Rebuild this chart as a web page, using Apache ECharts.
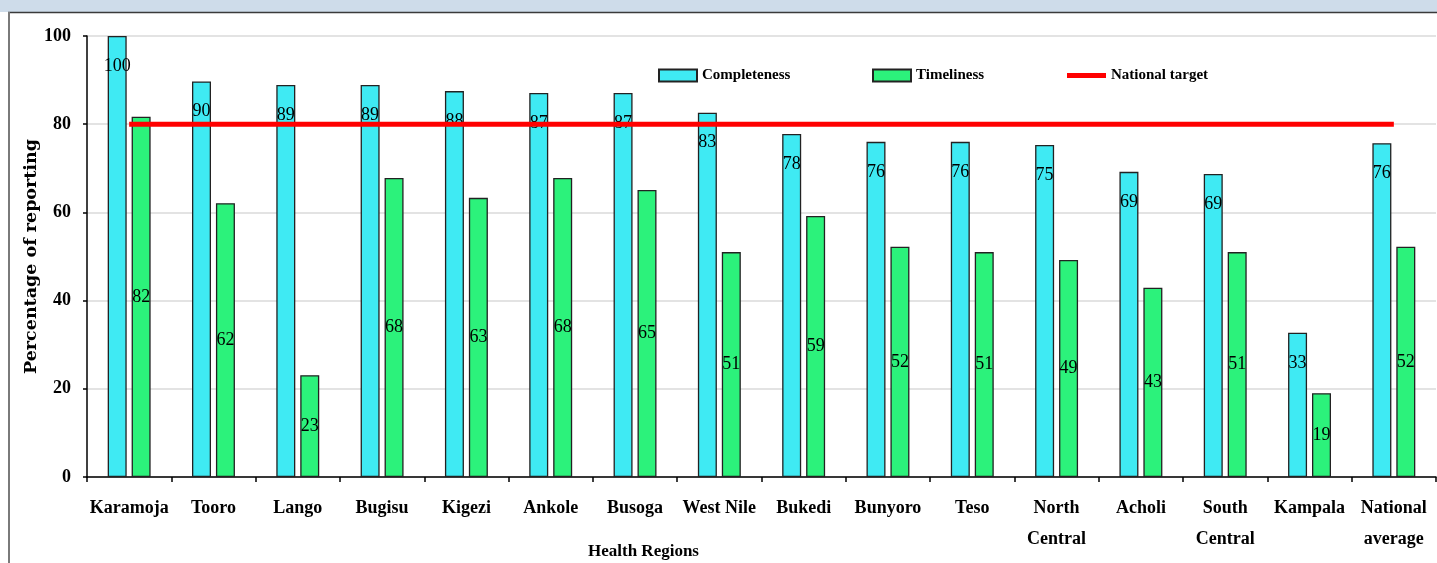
<!DOCTYPE html>
<html>
<head>
<meta charset="utf-8">
<script src="https://cdn.jsdelivr.net/npm/echarts@6/dist/echarts.min.js"></script>
<style>
  html, body { margin: 0; padding: 0; background: #ffffff; }
  #chart { width: 1437px; height: 563px; }
</style>
</head>
<body>
<div id="chart"></div>
<script>
// ---- Data ----
const categories = ['Karamoja', 'Tooro', 'Lango', 'Bugisu', 'Kigezi', 'Ankole', 'Busoga', 'West Nile',
  'Bukedi', 'Bunyoro', 'Teso', 'North\nCentral', 'Acholi', 'South\nCentral', 'Kampala', 'National\naverage'];
const completeness = [100, 89.7, 88.9, 88.9, 87.5, 87.1, 87.1, 82.6, 77.8, 76.0, 76.0, 75.3, 69.2, 68.7, 32.7, 75.7];
const timeliness = [81.7, 62.1, 23.1, 67.8, 63.3, 67.8, 65.1, 51.0, 59.2, 52.2, 51.0, 49.2, 42.9, 51.0, 19.0, 52.2];
const nationalTarget = [80, 80, 80, 80, 80, 80, 80, 80, 80, 80, 80, 80, 80, 80, 80, 80];
const yTicks = { min: 0, max: 100, interval: 20 };
const seriesNames = ['Completeness', 'Timeliness', 'National target'];
const xAxisTitle = 'Health Regions';
const yAxisTitle = 'Percentage of reporting';

const FONT = '"Liberation Serif", "DejaVu Serif", serif';
const chart = echarts.init(document.getElementById('chart'), null, { renderer: 'canvas' });

const legendText = { fontFamily: FONT, fontWeight: 'bold', fontSize: 15, color: '#000' };

chart.setOption({
  animation: false,
  backgroundColor: '#ffffff',
  grid: { left: 87, right: 1, top: 36, bottom: 86, containLabel: false },
  graphic: [
    { type: 'rect', shape: { x: 0, y: 0, width: 1437, height: 12 }, style: { fill: '#cedcea' }, silent: true },
    { type: 'line', shape: { x1: 8, y1: 12.5, x2: 1437, y2: 12.5 }, style: { stroke: '#3a3a3a', lineWidth: 1.5 }, silent: true },
    { type: 'line', shape: { x1: 9, y1: 12, x2: 9, y2: 563 }, style: { stroke: '#7a7a7a', lineWidth: 2 }, silent: true },
    { type: 'text', left: 588, top: 543, style: { text: xAxisTitle, font: 'bold 17px ' + FONT, fill: '#000' }, silent: true }
  ],
  legend: [
    { left: 653, top: 63, data: [seriesNames[0]], icon: 'rect', itemWidth: 38, itemHeight: 12, itemGap: 5, textStyle: legendText, selectedMode: false },
    { left: 867, top: 63, data: [seriesNames[1]], icon: 'rect', itemWidth: 38, itemHeight: 12, itemGap: 5, textStyle: legendText, selectedMode: false },
    { left: 1062, top: 63, data: [seriesNames[2]], icon: 'rect', itemWidth: 39, itemHeight: 5, itemGap: 5, textStyle: legendText, selectedMode: false }
  ],
  xAxis: {
    type: 'category',
    data: categories,
    boundaryGap: true,
    axisLine: { lineStyle: { color: '#000', width: 1.5 } },
    axisTick: { show: true, length: 5, alignWithLabel: false, lineStyle: { color: '#000', width: 1.5 } },
    axisLabel: { interval: 0, margin: 16, color: '#000', fontFamily: FONT, fontWeight: 'bold', fontSize: 18, lineHeight: 31 },
    splitLine: { show: false }
  },
  yAxis: {
    type: 'value',
    min: yTicks.min, max: yTicks.max, interval: yTicks.interval,
    name: yAxisTitle,
    nameLocation: 'middle',
    nameRotate: 90,
    nameGap: 47,
    nameMoveOverlap: false,
    nameTextStyle: { fontFamily: '"DejaVu Serif", serif', fontWeight: 'bold', fontSize: 17.5, color: '#000' },
    axisLine: { show: true, lineStyle: { color: '#000', width: 1.5 } },
    axisTick: { show: true, length: 4, lineStyle: { color: '#000', width: 1.5 } },
    axisLabel: { margin: 16, color: '#000', fontFamily: FONT, fontWeight: 'bold', fontSize: 18 },
    splitLine: { show: true, lineStyle: { color: '#dadada', width: 1.5 } }
  },
  series: [
    {
      name: seriesNames[0], type: 'bar', data: completeness,
      barWidth: 19, barGap: '26%',
      itemStyle: { color: '#3feaf3', borderColor: '#222', borderWidth: 1.3 },
      label: {
        show: true, position: 'insideTop', distance: 21,
        fontFamily: FONT, fontSize: 18, color: '#000',
        formatter: p => Math.round(p.value)
      },
      z: 2
    },
    {
      name: seriesNames[1], type: 'bar', data: timeliness,
      barWidth: 19,
      itemStyle: { color: '#2cf27b', borderColor: '#222', borderWidth: 1.3 },
      label: {
        show: true, position: 'inside',
        fontFamily: FONT, fontSize: 18, color: '#000',
        formatter: p => Math.round(p.value)
      },
      z: 2
    },
    {
      name: seriesNames[2], type: 'line', data: nationalTarget,
      symbol: 'none', showSymbol: false,
      lineStyle: { color: '#ff0000', width: 5 },
      itemStyle: { color: '#ff0000' },
      z: 2
    }
  ]
});
</script>
</body>
</html>
